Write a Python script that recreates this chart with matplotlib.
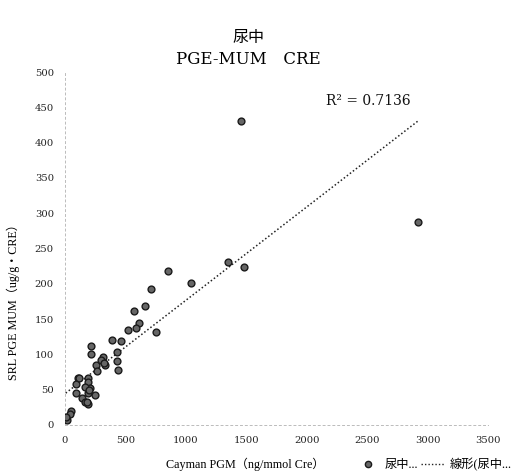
import matplotlib
matplotlib.use("Agg")
import matplotlib.pyplot as plt
import numpy as np
from matplotlib.lines import Line2D

plt.rcParams['font.family'] = ['Liberation Serif', 'Noto Sans CJK JP', 'DejaVu Sans']

title_line1 = "尿中"
title_line2 = "PGE-MUM　CRE"
xlabel = "Cayman PGM（ng/mmol Cre）"
ylabel = "SRL PGE MUM（ug/g・CRE）"
r2_text = "R² = 0.7136"
legend_labels = ["尿中...", "線形(尿中..."]

x_vals = [1455, 2920, 1350, 1480, 850, 1042, 712, 662, 753, 574, 615, 587, 519,
          386, 463, 212, 215, 433, 433, 441, 312, 331, 256, 268, 110, 193, 193,
          88, 210, 188, 88, 248, 138, 165, 193, 50, 41, 19, 6,
          116, 165, 201, 185, 300, 320]
y_vals = [431, 287, 231, 224, 218, 201, 192, 169, 132, 161, 145, 137, 134,
          120, 119, 112, 100, 103, 91, 78, 96, 85, 85, 77, 67, 67, 61,
          58, 52, 46, 46, 42, 38, 33, 30, 20, 15, 7, 12,
          66, 54, 50, 33, 92, 88]

xticks = [0, 500, 1000, 1500, 2000, 2500, 3000, 3500]
yticks = [0, 50, 100, 150, 200, 250, 300, 350, 400, 450, 500]

serif_wide = ['DejaVu Serif', 'Noto Sans CJK JP']

fig = plt.figure(figsize=(5.17, 4.75), dpi=100)
ax = fig.add_axes([0.1257, 0.1053, 0.8183, 0.7431])

x = np.array(x_vals, dtype=float)
y = np.array(y_vals, dtype=float)
ax.scatter(x, y, s=24, facecolor='#666666', edgecolor='#1a1a1a', linewidths=1.0, zorder=3)

slope, intercept = np.polyfit(x, y, 1)
xl = np.array([x.min(), x.max()])
ax.plot(xl, slope * xl + intercept, linestyle=(0, (1, 1.5)), color='#222222', linewidth=1.1, zorder=2)

ax.text(2860, 449, r2_text, fontsize=10, ha='right', va='bottom', color='#111111',
        family=serif_wide)

ax.set_xlim(0, 3500)
ax.set_ylim(0, 500)
ax.set_xticks(xticks)
ax.set_yticks(yticks)
ax.tick_params(axis='both', length=0, labelsize=7.2, colors='#222222', pad=8)
for lab in ax.get_xticklabels() + ax.get_yticklabels():
    lab.set_family(serif_wide)
for s in ['top', 'right']:
    ax.spines[s].set_visible(False)
for s in ['left', 'bottom']:
    ax.spines[s].set_color('#bbbbbb')
    ax.spines[s].set_linestyle((0, (2, 3)))
    ax.spines[s].set_linewidth(0.7)

fig.text(0.48, 0.921, title_line1, ha='center', va='center', fontsize=11.5)
fig.text(0.48, 0.874, title_line2, ha='center', va='center', fontsize=12, family=serif_wide)
fig.text(0.474, 0.022, xlabel, ha='center', va='center', fontsize=8.7)
fig.text(0.025, 0.37, ylabel, ha='center', va='center', fontsize=8.7, rotation=90)

handles = [Line2D([], [], marker='o', linestyle='none', markersize=4.5,
                  markerfacecolor='#666666', markeredgecolor='#1a1a1a'),
           Line2D([], [], linestyle=(0, (1, 1.5)), color='#222222', linewidth=1.0)]
fig.legend(handles, legend_labels, loc='center right', bbox_to_anchor=(1.0, 0.022),
           ncol=2, frameon=False, fontsize=8.8, handlelength=2.0, handletextpad=0.4,
           columnspacing=0.2, borderaxespad=0)

fig.savefig("out.png", dpi=100, facecolor='white')
